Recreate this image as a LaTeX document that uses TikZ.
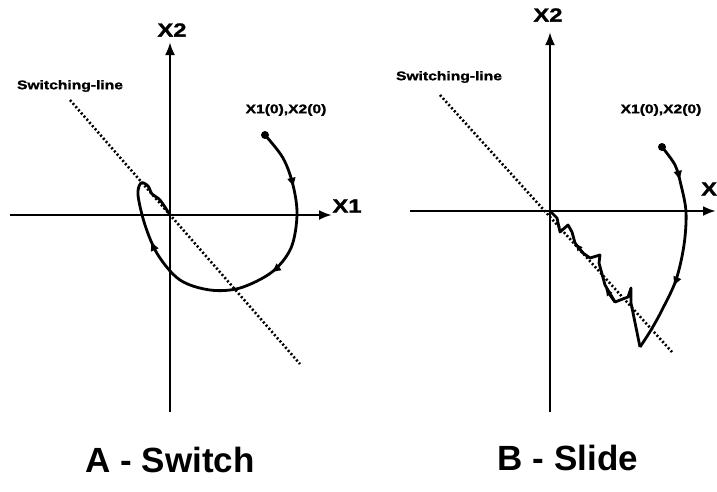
\documentclass[tikz,border=0pt]{standalone}
\usepackage{fontspec}
\setmainfont{Liberation Sans}
\newfontfamily\widefont[FakeStretch=1.25, FakeBold=1.5]{Liberation Sans Bold}
\usetikzlibrary{arrows.meta, decorations.markings}

\begin{document}
\begin{tikzpicture}[
  x=1pt, y=-1pt,
  every node/.style={font=\bfseries},
  axis/.style={line width=2.8pt, -{Latex[length=13pt, width=10pt]}},
  swline/.style={line width=2.6pt, dash pattern=on 2pt off 2.2pt},
  traj/.style={line width=2.8pt, line join=round},
  startdot/.style={circle, fill, inner sep=0pt, minimum size=8pt},
  tip/.style={postaction={decorate, decoration={markings,
      mark=at position #1 with {\arrow{Latex[length=10pt, width=9pt]}}}}},
  axlabel/.style={font=\fontsize{19}{19}\widefont},
  smalllabel/.style={font=\fontsize{12.5}{12.5}\widefont, inner sep=0pt},
  caption/.style={font=\fontsize{35}{35}\selectfont\bfseries},
]
  \useasboundingbox (0,0) rectangle (717,491);

  % A - Switch
  \coordinate (oA) at (170,215);
  \draw[axis] (10,215) -- (332,215);
  \draw[axis] (170,412) -- (170,42);
  \node[axlabel] (x1A) at (347,206) {X1};
  \node[axlabel] (x2A) at (172,30) {X2};
  \node[smalllabel] (swA) at (70,86) {Switching-line};
  \coordinate (swAend) at (300,364);
  \draw[swline] (swA.south) ++(0,8) -- (swAend);
  \node[smalllabel] (x0A) at (286,110) {X1(0),X2(0)};
  \node[startdot] (s0A) at (265,135) {};
  \draw[traj, tip=0.15, tip=0.38, tip=0.74] plot[smooth, tension=0.55] coordinates {
    (s0A) (283,158) (293,185) (297,215) (291,248) (272,272) (240,288)
    (210,290) (180,280) (158,255) (145,225) (138,195) (141,183)
    (148,186) (152,194) (160,200) (oA)};
  \node[caption] (capA) at (170,460) {A - Switch};

  % B - Slide
  \coordinate (oB) at (550,211);
  \draw[axis] (410,211) -- (716,211);
  \draw[axis] (550,412) -- (550,32);
  \node[axlabel, anchor=west, inner sep=0pt] (x1B) at (701,189) {X};
  \node[axlabel] (x2B) at (548,15) {X2};
  \node[smalllabel] (swB) at (449,77) {Switching-line};
  \coordinate (swBend) at (672,352);
  \draw[swline] (440,95) -- (swBend);
  \node[smalllabel] (x0B) at (661,110) {X1(0),X2(0)};
  \node[startdot] (s0B) at (662,147) {};
  \coordinate (lowB) at (640,347);
  \draw[traj, tip=0.18, tip=0.68] plot[smooth, tension=0.55] coordinates {
    (s0B) (675,165) (681,185) (686,212) (684,245) (676,280) (662,310)
    (651,330) (lowB)};
  \draw[traj] (lowB) -- (631,303) -- (631,288) -- (628,297) -- (615,302)
    -- (605,285) -- (599,263) -- (600,255) -- (590,258) -- (583,253)
    -- (575,243) -- (572,232) -- (568,225) -- (560,232) -- (557,218) -- (oB);
  \draw[traj, -{Latex[length=8pt, width=7pt]}] (583,253) -- (575,243);
  \draw[traj, -{Latex[length=8pt, width=7pt]}] (615,302) -- (605,288);
  \node[caption] (capB) at (568,458) {B - Slide};
\end{tikzpicture}
\end{document}
